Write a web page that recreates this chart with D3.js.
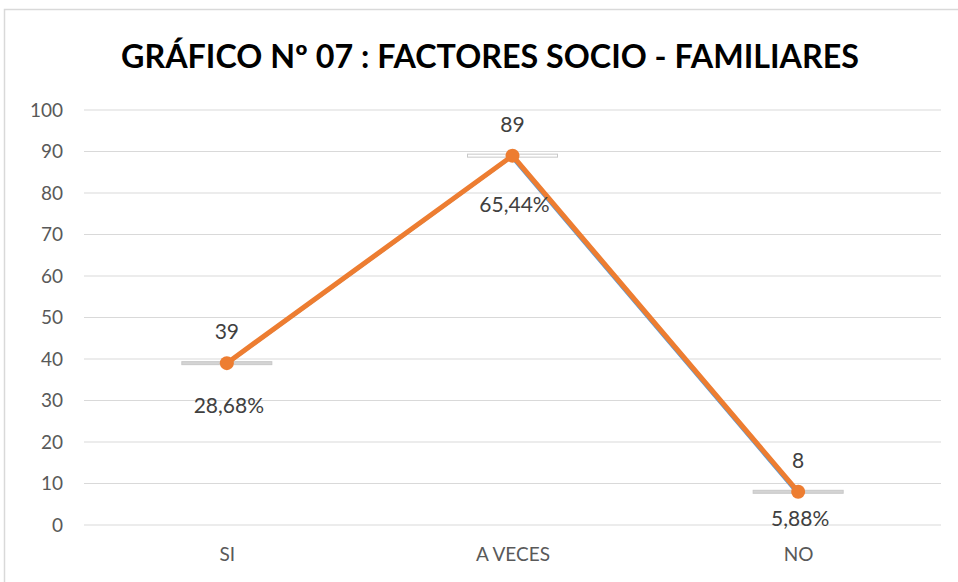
<!DOCTYPE html>
<html>
<head>
<meta charset="utf-8">
<script src="https://cdn.jsdelivr.net/npm/d3@7"></script>
<style>
  body { margin: 0; background: #fff; }
  svg { display: block; }
</style>
</head>
<body>
<svg id="chart" width="958" height="582"></svg>
<script>
// data
const categories = ['SI', 'A VECES', 'NO'];
const values = [39, 89, 8];
const percents = ['28,68%', '65,44%', '5,88%'];
const yTicks = [0, 10, 20, 30, 40, 50, 60, 70, 80, 90, 100];
const title = 'GRÁFICO Nº 07 : FACTORES SOCIO - FAMILIARES';

const font = 'Lato, "Open Sans", sans-serif';
const svg = d3.select('#chart');
const margin = { left: 84, right: 17, top: 110, bottom: 57 };
const width = 958 - margin.left - margin.right;
const height = 582 - margin.top - margin.bottom;

// chart frame
svg.append('path')
    .attr('d', 'M4.5,582 L4.5,9.5 L958,9.5')
    .attr('fill', 'none')
    .attr('stroke', '#d9d9d9')
    .attr('stroke-width', 1.5);

svg.append('text')
    .attr('x', 490)
    .attr('y', 68)
    .attr('text-anchor', 'middle')
    .attr('font-family', '"Liberation Sans Narrow", Lato, sans-serif')
    .attr('font-weight', 'bold')
    .attr('font-size', 32)
    .attr('textLength', 738)
    .attr('lengthAdjust', 'spacingAndGlyphs')
    .attr('fill', '#000')
    .text(title);

const g = svg.append('g').attr('transform', `translate(${margin.left},${margin.top})`);

const x = d3.scalePoint().domain(categories).range([0, width]).padding(0.5);
const y = d3.scaleLinear().domain([0, 100]).range([height, 0]);

// gridlines
g.selectAll('.grid')
    .data(yTicks)
    .enter().append('line')
    .attr('class', 'grid')
    .attr('x1', 0).attr('x2', width)
    .attr('y1', d => y(d)).attr('y2', d => y(d))
    .attr('stroke', '#d9d9d9')
    .attr('stroke-width', 1);

// y axis labels
const yAxis = g.append('g')
    .call(d3.axisLeft(y).tickValues(yTicks).tickSize(0).tickPadding(21));
yAxis.select('.domain').remove();
yAxis.selectAll('text')
    .attr('font-family', font)
    .attr('font-size', 19)
    .attr('fill', '#595959');

// x axis labels
const xAxis = g.append('g')
    .attr('transform', `translate(0,${height})`)
    .call(d3.axisBottom(x).tickSize(0).tickPadding(23));
xAxis.select('.domain').remove();
xAxis.selectAll('text')
    .attr('font-family', font)
    .attr('font-size', 19)
    .attr('fill', '#595959');

// small gray markers behind the points
g.selectAll('.mark')
    .data(values)
    .enter().append('rect')
    .attr('x', (d, i) => x(categories[i]) - 45)
    .attr('y', d => y(d) - 1.5)
    .attr('width', 90)
    .attr('height', 3)
    .attr('fill', (d, i) => i === 1 ? '#fff' : '#d4d4d4')
    .attr('stroke', '#c8c8c8')
    .attr('stroke-width', 1);

const line = d3.line()
    .x((d, i) => x(categories[i]))
    .y(d => y(d));

// blue series, slightly underneath
g.append('path')
    .datum(values)
    .attr('transform', 'translate(-1,1.5)')
    .attr('d', line)
    .attr('fill', 'none')
    .attr('stroke', '#5b9bd5')
    .attr('stroke-width', 3);

// orange series
g.append('path')
    .datum(values)
    .attr('d', line)
    .attr('fill', 'none')
    .attr('stroke', '#ed7d31')
    .attr('stroke-width', 5)
    .attr('stroke-linejoin', 'round');

g.selectAll('.dot')
    .data(values)
    .enter().append('circle')
    .attr('cx', (d, i) => x(categories[i]))
    .attr('cy', d => y(d))
    .attr('r', 7)
    .attr('fill', '#ed7d31');

// value labels
g.selectAll('.val')
    .data(values)
    .enter().append('text')
    .attr('x', (d, i) => x(categories[i]))
    .attr('y', d => y(d) - 24)
    .attr('text-anchor', 'middle')
    .attr('font-family', font)
    .attr('font-size', 21)
    .attr('fill', '#404040')
    .text(d => d);

// percent labels (offset below the point differs per label, as in the original)
const pctOffset = [50, 56, 34];
g.selectAll('.pct')
    .data(values)
    .enter().append('text')
    .attr('x', (d, i) => x(categories[i]) + 2)
    .attr('y', (d, i) => y(d) + pctOffset[i])
    .attr('text-anchor', 'middle')
    .attr('font-family', font)
    .attr('font-size', 21)
    .attr('fill', '#404040')
    .text((d, i) => percents[i]);
</script>
</body>
</html>
